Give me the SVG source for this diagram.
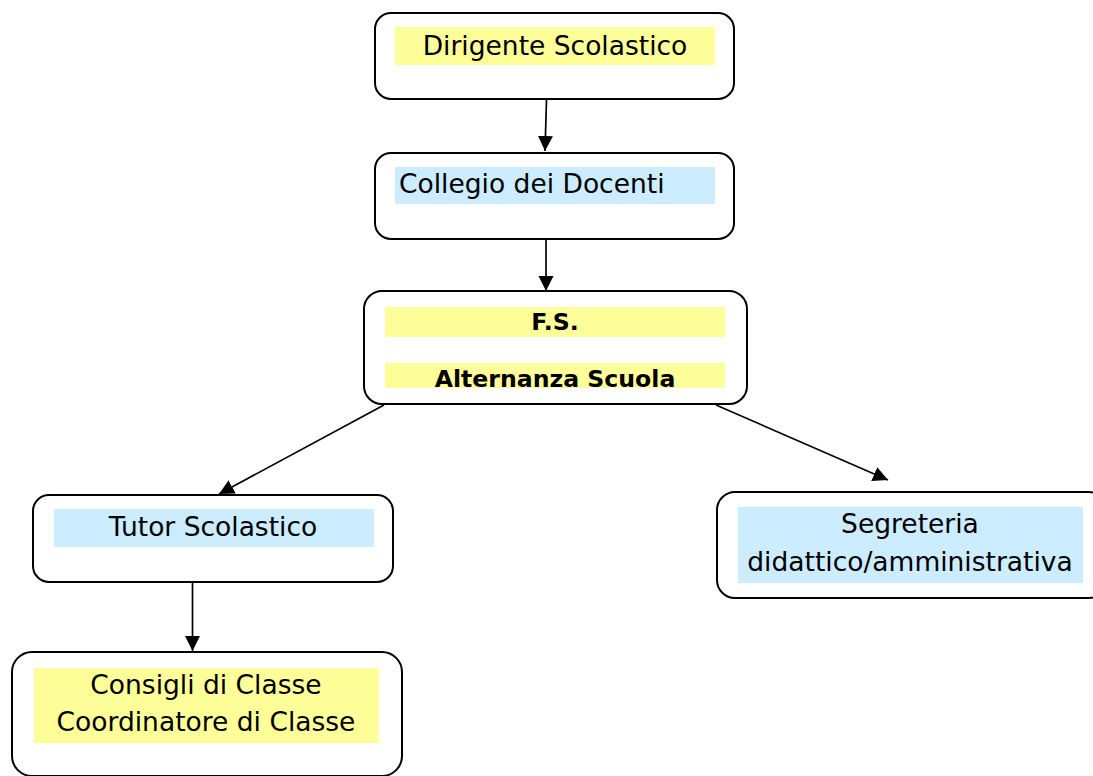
<svg xmlns="http://www.w3.org/2000/svg" width="1093" height="776" viewBox="0 0 1093 776">
<defs>
<marker id="ah" markerUnits="userSpaceOnUse" markerWidth="16" markerHeight="16" viewBox="0 0 16 16" refX="15" refY="8" orient="auto">
<path d="M0,0.5 L15,8 L0,15.5 Z" fill="#000"/>
</marker>
<style>
.box{fill:#fff;stroke:#000;stroke-width:2}
.y{fill:#FFFF99}
.b{fill:#CCECFF}
.t{font-family:"DejaVu Sans",Verdana,sans-serif;font-size:26.5px;fill:#000}
.bt{font-family:"DejaVu Sans",Verdana,sans-serif;font-size:23.6px;font-weight:bold;fill:#000}
.c{stroke:#000;stroke-width:1.7;fill:none;marker-end:url(#ah)}
</style>
</defs>
<rect width="1093" height="776" fill="#fff"/>
<g id="connectors">
<line class="c" x1="546.5" y1="100" x2="545" y2="151"/>
<line class="c" x1="546" y1="240" x2="546" y2="291"/>
<line class="c" x1="384" y1="405" x2="219" y2="494"/>
<line class="c" x1="716" y1="405" x2="888" y2="480"/>
<line class="c" x1="192.5" y1="582" x2="192.5" y2="651"/>
</g>
<g id="dirigente">
<rect class="box" x="375" y="13" width="359" height="86" rx="16"/>
<rect class="y" x="395" y="27" width="320" height="38"/>
<text class="t" x="555" y="55" text-anchor="middle">Dirigente Scolastico</text>
</g>
<g id="collegio">
<rect class="box" x="375" y="153" width="359" height="86" rx="16"/>
<rect class="b" x="395" y="167" width="320" height="37"/>
<text class="t" x="399" y="193">Collegio dei Docenti</text>
</g>
<g id="fs">
<rect class="box" x="364" y="291" width="383" height="113" rx="18"/>
<rect class="y" x="385" y="307" width="340" height="30"/>
<rect class="y" x="385" y="363" width="340" height="25"/>
<text class="bt" x="555" y="330" text-anchor="middle">F.S.</text>
<text class="bt" x="555" y="387" text-anchor="middle">Alternanza Scuola</text>
</g>
<g id="tutor">
<rect class="box" x="33" y="495" width="360" height="87" rx="16"/>
<rect class="b" x="54" y="509" width="320" height="38"/>
<text class="t" x="213" y="536" text-anchor="middle">Tutor Scolastico</text>
</g>
<g id="consigli">
<rect class="box" x="12" y="652" width="390" height="124" rx="20"/>
<rect class="y" x="34" y="668" width="345" height="75"/>
<text class="t" x="206" y="694" text-anchor="middle">Consigli di Classe</text>
<text class="t" x="206" y="731" text-anchor="middle">Coordinatore di Classe</text>
</g>
<g id="segreteria">
<rect class="box" x="717" y="492" width="390" height="106" rx="18"/>
<rect class="b" x="738" y="507" width="345" height="76"/>
<text class="t" x="910" y="533" text-anchor="middle">Segreteria</text>
<text class="t" x="910" y="571" text-anchor="middle">didattico/amministrativa</text>
</g>
</svg>
